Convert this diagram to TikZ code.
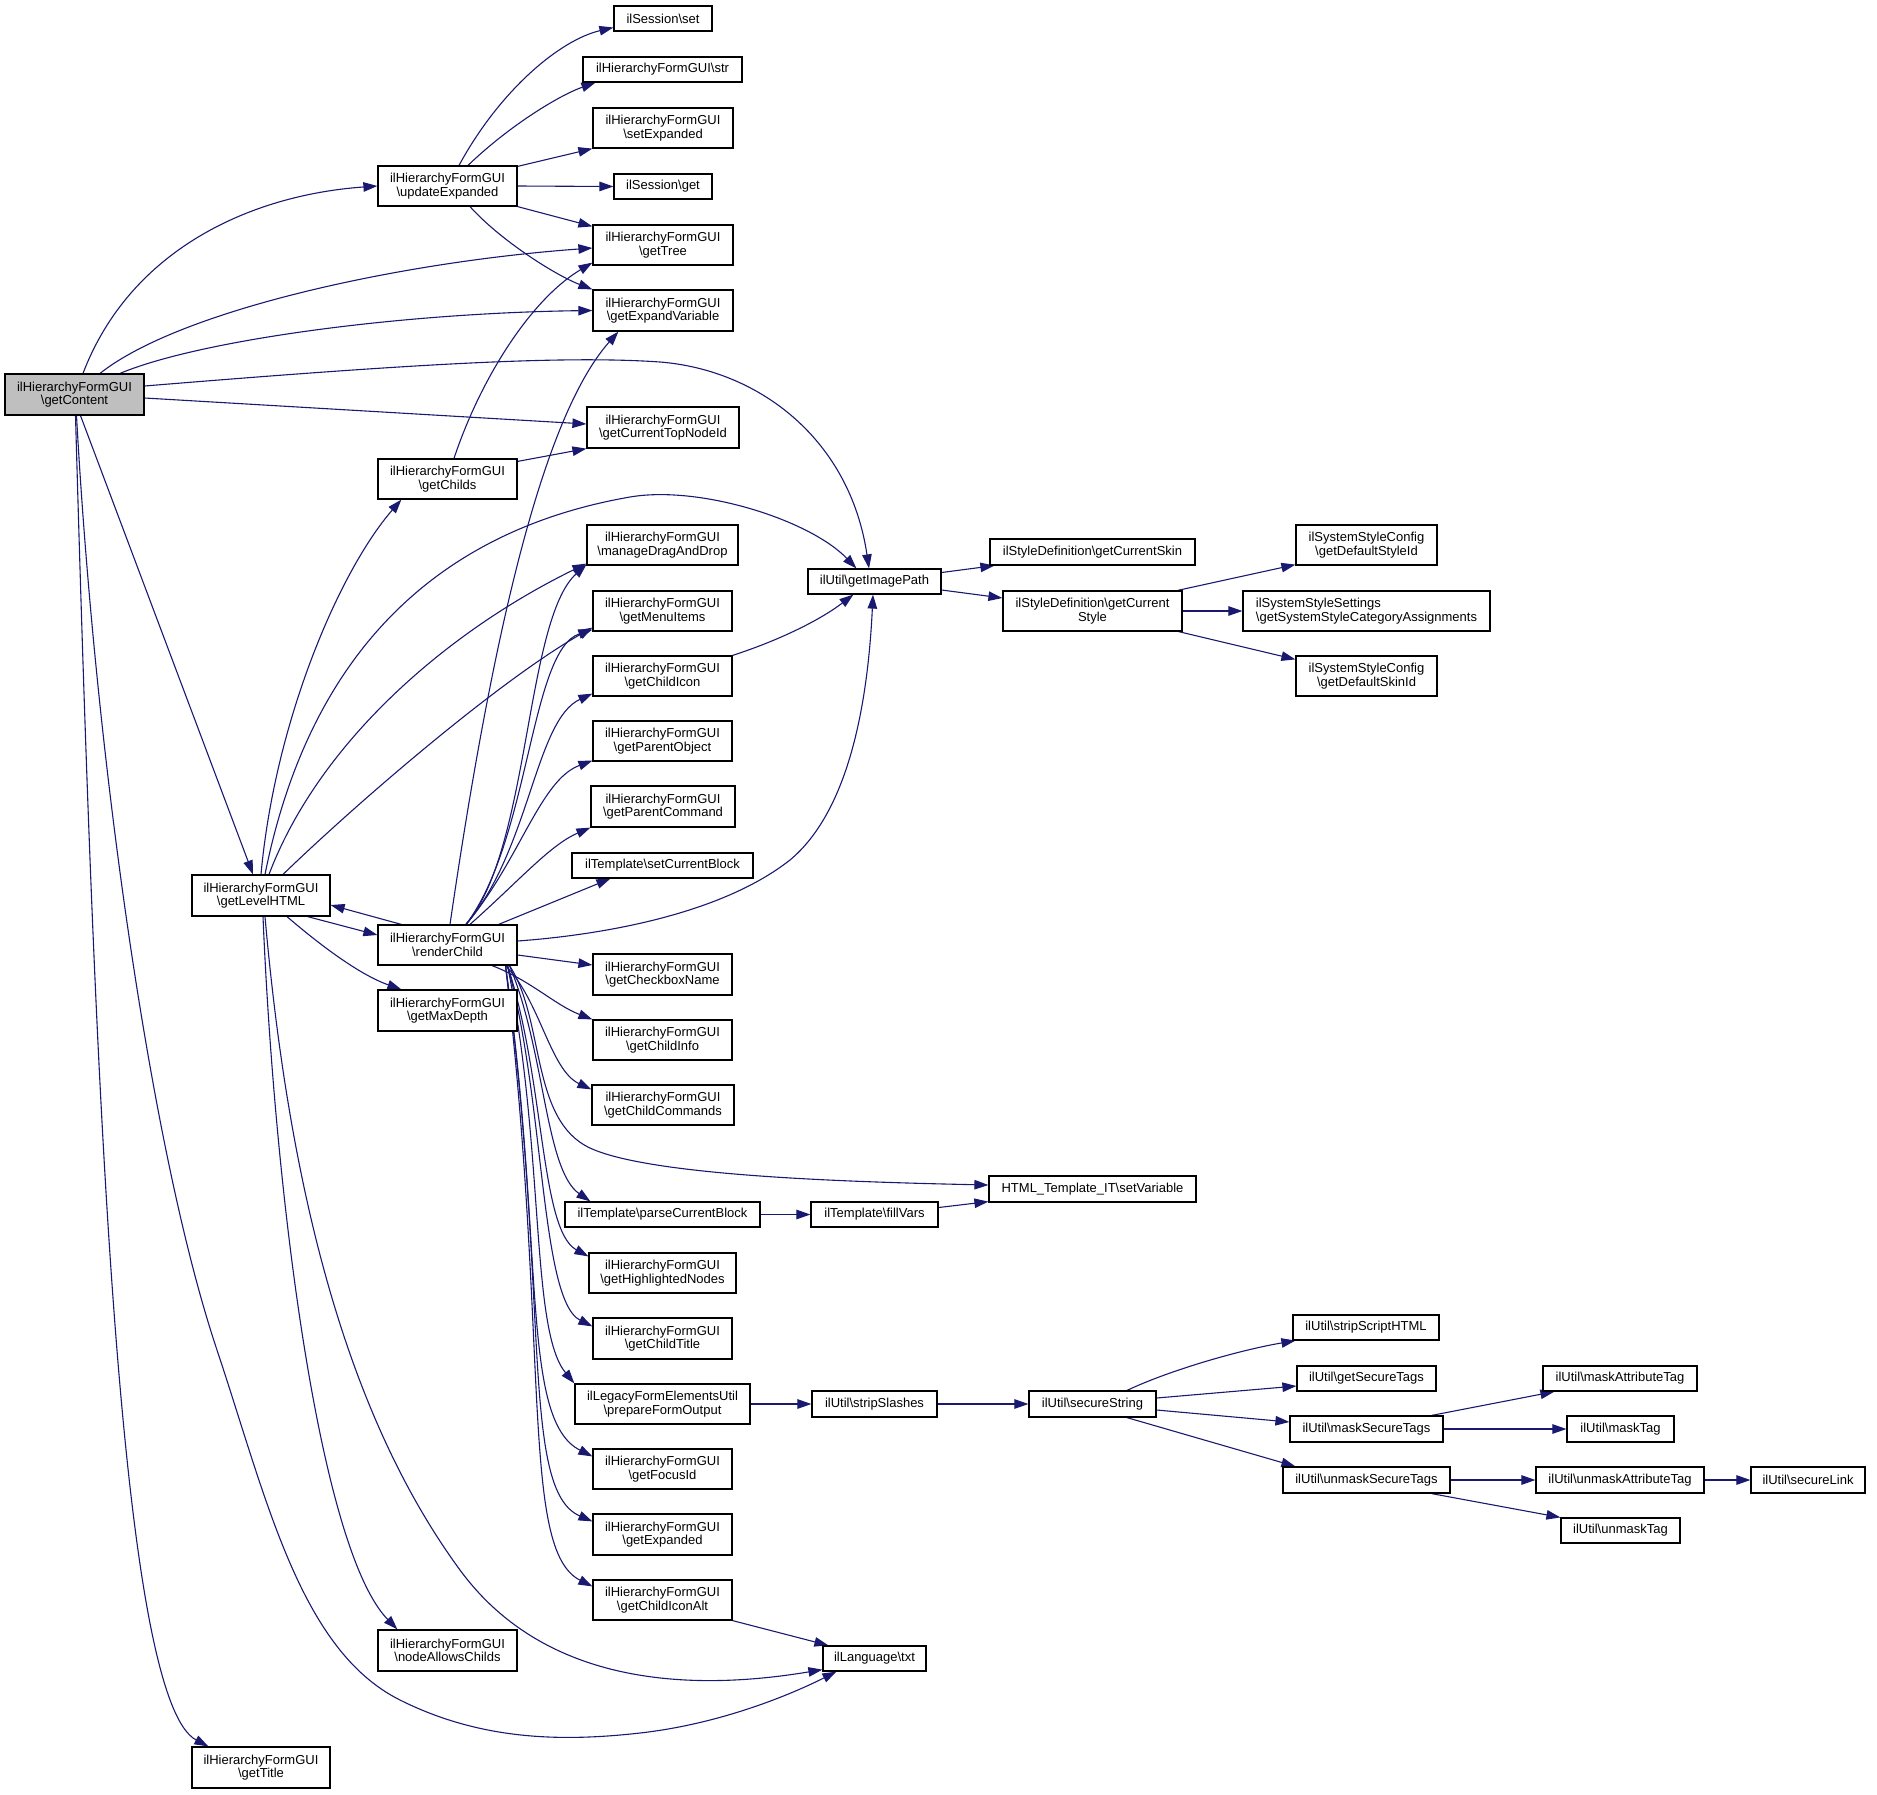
\documentclass[tikz,border=0pt]{standalone}
\usepackage{fontspec}
\setmainfont{Liberation Sans}
\usetikzlibrary{arrows.meta,calc}
\pgfdeclarelayer{background}
\pgfsetlayers{background,main}
\definecolor{edgeblue}{HTML}{191970}
\definecolor{rootgray}{HTML}{BFBFBF}
\newcommand{\bsl}{\textbackslash}
\tikzset{
  fnode/.style={draw=black, line width=1.2pt, fill=white, rectangle, inner sep=0pt, align=center, font=\fontsize{13}{13.6}\selectfont},
  edg/.style={draw=edgeblue, line width=1.1pt, -{Triangle[length=14pt,width=9.5pt]}},
}
\begin{document}
\begin{tikzpicture}[x=1pt,y=-1pt]
\useasboundingbox (0,0) rectangle (1877,1794);
% nodes
\node[fnode, fill=rootgray, minimum width=139pt, minimum height=41pt] (A) at (74.5,394.5) {ilHierarchyFormGUI\\\bsl getContent};
\node[fnode, minimum width=139pt, minimum height=40pt] (U) at (447.5,186) {ilHierarchyFormGUI\\\bsl updateExpanded};
\node[fnode, minimum width=98pt, minimum height=25pt] (set) at (663,18.5) {ilSession\bsl set};
\node[fnode, minimum width=159pt, minimum height=25pt] (str) at (662.5,69.5) {ilHierarchyFormGUI\bsl str};
\node[fnode, minimum width=140pt, minimum height=40pt] (setExp) at (663,128) {ilHierarchyFormGUI\\\bsl setExpanded};
\node[fnode, minimum width=98pt, minimum height=25pt] (get) at (663,186.5) {ilSession\bsl get};
\node[fnode, minimum width=140pt, minimum height=40pt] (getTree) at (663,245) {ilHierarchyFormGUI\\\bsl getTree};
\node[fnode, minimum width=140pt, minimum height=41pt] (expVar) at (663,310.5) {ilHierarchyFormGUI\\\bsl getExpandVariable};
\node[fnode, minimum width=152pt, minimum height=41pt] (topNode) at (663,427.5) {ilHierarchyFormGUI\\\bsl getCurrentTopNodeId};
\node[fnode, minimum width=139pt, minimum height=40pt] (C) at (447.5,479) {ilHierarchyFormGUI\\\bsl getChilds};
\node[fnode, minimum width=151pt, minimum height=40pt] (dnd) at (662.5,545) {ilHierarchyFormGUI\\\bsl manageDragAndDrop};
\node[fnode, minimum width=139pt, minimum height=40pt] (menu) at (662.5,611) {ilHierarchyFormGUI\\\bsl getMenuItems};
\node[fnode, minimum width=139pt, minimum height=40pt] (icon) at (662.5,676) {ilHierarchyFormGUI\\\bsl getChildIcon};
\node[fnode, minimum width=139pt, minimum height=40pt] (pobj) at (662.5,741) {ilHierarchyFormGUI\\\bsl getParentObject};
\node[fnode, minimum width=144pt, minimum height=41pt] (pcmd) at (663,806.5) {ilHierarchyFormGUI\\\bsl getParentCommand};
\node[fnode, minimum width=181pt, minimum height=25pt] (scb) at (662.5,865.5) {ilTemplate\bsl setCurrentBlock};
\node[fnode, minimum width=138pt, minimum height=41pt] (L) at (261,895.5) {ilHierarchyFormGUI\\\bsl getLevelHTML};
\node[fnode, minimum width=133pt, minimum height=25pt] (imgPath) at (874.5,581.5) {ilUtil\bsl getImagePath};
\node[fnode, minimum width=205pt, minimum height=26pt] (skin) at (1092.5,552) {ilStyleDefinition\bsl getCurrentSkin};
\node[fnode, minimum width=179pt, minimum height=40pt] (style) at (1092.5,611) {ilStyleDefinition\bsl getCurrent\\Style};
\node[fnode, minimum width=141pt, minimum height=40pt] (dsid) at (1366.5,545) {ilSystemStyleConfig\\\bsl getDefaultStyleId};
\node[fnode, align=left, minimum width=247pt, minimum height=40pt] (sscat) at (1366.5,611) {ilSystemStyleSettings\\\bsl getSystemStyleCategoryAssignments};
\node[fnode, minimum width=141pt, minimum height=40pt] (dskin) at (1366.5,676) {ilSystemStyleConfig\\\bsl getDefaultSkinId};
\node[fnode, minimum width=139pt, minimum height=40pt] (R) at (447.5,945) {ilHierarchyFormGUI\\\bsl renderChild};
\node[fnode, minimum width=139pt, minimum height=41pt] (maxd) at (447.5,1010.5) {ilHierarchyFormGUI\\\bsl getMaxDepth};
\node[fnode, minimum width=139pt, minimum height=41pt] (cbx) at (662.5,974.5) {ilHierarchyFormGUI\\\bsl getCheckboxName};
\node[fnode, minimum width=139pt, minimum height=40pt] (cinfo) at (662.5,1040) {ilHierarchyFormGUI\\\bsl getChildInfo};
\node[fnode, minimum width=142pt, minimum height=40pt] (ccmd) at (663,1105) {ilHierarchyFormGUI\\\bsl getChildCommands};
\node[fnode, minimum width=195pt, minimum height=25pt] (pcb) at (662.5,1214.5) {ilTemplate\bsl parseCurrentBlock};
\node[fnode, minimum width=147pt, minimum height=40pt] (hl) at (662.5,1273) {ilHierarchyFormGUI\\\bsl getHighlightedNodes};
\node[fnode, minimum width=139pt, minimum height=41pt] (ctitle) at (662.5,1338.5) {ilHierarchyFormGUI\\\bsl getChildTitle};
\node[fnode, minimum width=207pt, minimum height=26pt] (setVar) at (1092.5,1189) {HTML\_Template\_IT\bsl setVariable};
\node[fnode, minimum width=127pt, minimum height=25pt] (fill) at (874.5,1214.5) {ilTemplate\bsl fillVars};
\node[fnode, minimum width=175pt, minimum height=40pt] (pfo) at (662.5,1404) {ilLegacyFormElementsUtil\\\bsl prepareFormOutput};
\node[fnode, minimum width=139pt, minimum height=40pt] (focus) at (662.5,1469) {ilHierarchyFormGUI\\\bsl getFocusId};
\node[fnode, minimum width=139pt, minimum height=41pt] (expd) at (662.5,1534.5) {ilHierarchyFormGUI\\\bsl getExpanded};
\node[fnode, minimum width=139pt, minimum height=40pt] (iconAlt) at (662.5,1600) {ilHierarchyFormGUI\\\bsl getChildIconAlt};
\node[fnode, minimum width=139pt, minimum height=41pt] (nac) at (447.5,1650.5) {ilHierarchyFormGUI\\\bsl nodeAllowsChilds};
\node[fnode, minimum width=138pt, minimum height=41pt] (title) at (261,1767.5) {ilHierarchyFormGUI\\\bsl getTitle};
\node[fnode, minimum width=125pt, minimum height=26pt] (strip) at (874.5,1404) {ilUtil\bsl stripSlashes};
\node[fnode, minimum width=127pt, minimum height=26pt] (sec) at (1092.5,1404) {ilUtil\bsl secureString};
\node[fnode, minimum width=103pt, minimum height=25pt] (txt) at (874.5,1658.5) {ilLanguage\bsl txt};
\node[fnode, minimum width=146pt, minimum height=25pt] (ssh) at (1366,1327.5) {ilUtil\bsl stripScriptHTML};
\node[fnode, minimum width=139pt, minimum height=25pt] (gst) at (1366.5,1378.5) {ilUtil\bsl getSecureTags};
\node[fnode, minimum width=153pt, minimum height=26pt] (mst) at (1366.5,1429) {ilUtil\bsl maskSecureTags};
\node[fnode, minimum width=167pt, minimum height=26pt] (umst) at (1366.5,1480) {ilUtil\bsl unmaskSecureTags};
\node[fnode, minimum width=154pt, minimum height=25pt] (mat) at (1620,1378.5) {ilUtil\bsl maskAttributeTag};
\node[fnode, minimum width=107pt, minimum height=26pt] (mtag) at (1620.5,1429) {ilUtil\bsl maskTag};
\node[fnode, minimum width=168pt, minimum height=26pt] (umat) at (1620,1480) {ilUtil\bsl unmaskAttributeTag};
\node[fnode, minimum width=114pt, minimum height=26pt] (slink) at (1808,1480) {ilUtil\bsl secureLink};
\node[fnode, minimum width=119pt, minimum height=25pt] (umtag) at (1620.5,1530.5) {ilUtil\bsl unmaskTag};
% edges
\begin{pgfonlayer}{background}
% getContent
\draw[edg] ($(A.north)+(8.5,0)$) .. controls (130,250) and (250,195) .. (U.west);
\draw[edg] ($(A.north)+(25.5,0)$) .. controls (180,310) and (400,262) .. ($(getTree.west)+(0,3)$);
\draw[edg] ($(A.north)+(45.5,0)$) .. controls (200,340) and (400,313) .. (expVar.west);
\draw[edg] ($(A.east)+(0,-8.5)$) .. controls (400,365) and (560,355) .. (660,362) .. controls (760,370) and (850,440) .. ($(imgPath.north)+(-5.5,0)$);
\draw[edg] ($(A.east)+(0,3.5)$) -- ($(topNode.west)+(0,-3.5)$);
\draw[edg] ($(A.south)+(6,0)$) -- ($(L.north)+(-8,0)$);
\draw[edg] ($(A.south)+(2,0)$) .. controls (95,750) and (150,1150) .. (217,1350) .. controls (267,1500) and (300,1650) .. (400,1700) .. controls (480,1740) and (560,1742) .. (640,1733) .. controls (720,1724) and (790,1695) .. ($(txt.south west)+(14,0)$);
\draw[edg] ($(A.south)+(1,0)$) .. controls (95,1100) and (120,1700) .. ($(title.north west)+(17,0)$);
% updateExpanded
\draw[edg] ($(U.north)+(11.5,0)$) .. controls (500,90) and (560,40) .. ($(set.west)+(0,9)$);
\draw[edg] ($(U.north)+(20.5,0)$) .. controls (510,125) and (560,95) .. ($(str.south west)+(13,0)$);
\draw[edg] ($(U.north east)+(0,1)$) -- (setExp.south west);
\draw[edg] (U.east) -- (get.west);
\draw[edg] (U.south east) -- ($(getTree.north west)+(0,2)$);
\draw[edg] ($(U.south)+(22.5,0)$) .. controls (500,240) and (555,275) .. (expVar.north west);
% getChilds
\draw[edg] ($(C.north)+(6.5,0)$) .. controls (480,380) and (530,300) .. ($(getTree.south west)+(0,-3)$);
\draw[edg] ($(C.north east)+(0,3)$) -- (topNode.south west);
% getLevelHTML
\draw[edg] (L.north) .. controls (275,720) and (340,570) .. ($(C.south west)+(24,0)$);
\draw[edg] ($(L.north)+(4,0)$) .. controls (310,650) and (440,530) .. (630,497) .. controls (700,485) and (810,520) .. ($(imgPath.north west)+(49,0)$);
\draw[edg] ($(L.north)+(8,0)$) .. controls (320,740) and (450,630) .. ($(dnd.south west)+(0,-2)$);
\draw[edg] ($(L.north)+(22,0)$) .. controls (360,800) and (500,680) .. ($(menu.south west)+(0,-4)$);
\draw[edg] ($(L.south east)+(-23,0)$) -- ($(R.west)+(0,-10)$);
\draw[edg] ($(L.south)+(26,0)$) .. controls (320,945) and (360,975) .. ($(maxd.north west)+(24,0)$);
\draw[edg] ($(L.south)+(2,0)$) .. controls (275,1200) and (320,1550) .. ($(nac.north west)+(20,0)$);
\draw[edg] ($(L.south)+(4,0)$) .. controls (290,1200) and (350,1420) .. (460,1570) .. controls (548,1690) and (700,1690) .. ($(txt.south west)+(0,-2)$);
% renderChild
\draw[edg] ($(R.north west)+(24,0)$) -- ($(L.east)+(0,9.5)$);
\draw[edg] ($(R.north)+(2.5,0)$) .. controls (490,650) and (540,420) .. ($(expVar.south west)+(26,0)$);
\draw[edg] ($(R.north)+(18.5,0)$) .. controls (530,850) and (525,620) .. ($(dnd.south west)+(0,-1)$);
\draw[edg] ($(R.north)+(18.5,0)$) .. controls (530,840) and (530,650) .. ($(menu.south west)+(0,-2)$);
\draw[edg] ($(R.north)+(18.5,0)$) .. controls (530,850) and (535,720) .. ($(icon.south west)+(0,-3)$);
\draw[edg] ($(R.north)+(18.5,0)$) .. controls (520,860) and (540,780) .. ($(pobj.south west)+(0,-1)$);
\draw[edg] ($(R.north)+(22.5,0)$) .. controls (520,880) and (550,845) .. (pcmd.south west);
\draw[edg] ($(R.north east)+(-19,0)$) -- ($(scb.south west)+(39,0)$);
\draw[edg] ($(R.east)+(0,-4)$) .. controls (600,935) and (720,915) .. (790,860) .. controls (850,810) and (868,700) .. ($(imgPath.south)+(-1.5,0)$);
\draw[edg] ($(R.east)+(0,10)$) -- ($(cbx.west)+(0,-9.5)$);
\draw[edg] ($(R.south)+(44.5,0)$) .. controls (530,980) and (555,1005) .. (cinfo.north west);
\draw[edg] ($(R.south)+(58,0)$) .. controls (540,1000) and (550,1070) .. ($(ccmd.north west)+(0,5)$);
\draw[edg] ($(R.south)+(62,0)$) .. controls (545,1020) and (530,1120) .. (590,1148) .. controls (650,1176) and (850,1182) .. ($(setVar.west)+(0,-4)$);
\draw[edg] ($(R.south)+(62,0)$) .. controls (545,1050) and (545,1170) .. ($(pcb.north west)+(26,0)$);
\draw[edg] ($(R.south)+(60,0)$) .. controls (545,1080) and (540,1230) .. ($(hl.north west)+(0,4)$);
\draw[edg] ($(R.south)+(60,0)$) .. controls (545,1100) and (540,1300) .. ($(ctitle.north west)+(0,9)$);
\draw[edg] ($(R.south)+(60,0)$) .. controls (545,1150) and (530,1330) .. (pfo.north west);
\draw[edg] ($(R.south)+(58,0)$) .. controls (545,1250) and (520,1420) .. ($(focus.north west)+(0,8)$);
\draw[edg] ($(R.south)+(58,0)$) .. controls (550,1300) and (520,1490) .. ($(expd.north west)+(0,8)$);
\draw[edg] ($(R.south)+(58,0)$) .. controls (550,1350) and (520,1550) .. ($(iconAlt.north west)+(0,7)$);
% others
\draw[edg] (icon.north east) .. controls (780,640) and (820,620) .. ($(imgPath.south west)+(46,0)$);
\draw[edg] ($(imgPath.east)+(0,-9)$) -- ($(skin.south west)+(5,0)$);
\draw[edg] ($(imgPath.east)+(0,8.5)$) -- ($(style.west)+(0,-13)$);
\draw[edg] ($(style.north east)+(-5,0)$) -- ($(dsid.south west)+(0,-1)$);
\draw[edg] (style.east) -- (sscat.west);
\draw[edg] ($(style.south east)+(-4,0)$) -- ($(dskin.north west)+(0,4)$);
\draw[edg] (pcb.east) -- (fill.west);
\draw[edg] ($(fill.east)+(0,-7)$) -- ($(setVar.south west)+(0,-1)$);
\draw[edg] (pfo.east) -- (strip.west);
\draw[edg] (strip.east) -- (sec.west);
\draw[edg] ($(sec.north)+(34.5,0)$) .. controls (1170,1370) and (1240,1350) .. ($(ssh.south west)+(3,0)$);
\draw[edg] ($(sec.east)+(0,-6)$) -- ($(gst.west)+(0,7.5)$);
\draw[edg] ($(sec.east)+(0,6)$) -- ($(mst.west)+(0,-7)$);
\draw[edg] ($(sec.south)+(34.5,0)$) -- ($(umst.north west)+(13,0)$);
\draw[edg] ($(mst.north east)+(-12,0)$) -- ($(mat.south west)+(12,0)$);
\draw[edg] (mst.east) -- (mtag.west);
\draw[edg] (umst.east) -- (umat.west);
\draw[edg] ($(umst.south east)+(-19,0)$) -- (umtag.north west);
\draw[edg] (umat.east) -- (slink.west);
\draw[edg] (iconAlt.south east) -- ($(txt.north west)+(6,0)$);
\end{pgfonlayer}
\end{tikzpicture}
\end{document}
